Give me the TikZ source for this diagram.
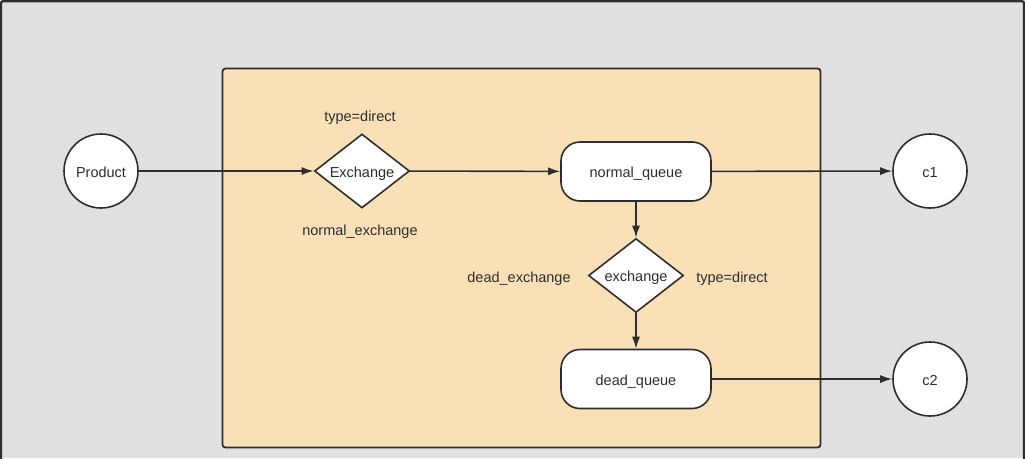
\documentclass[tikz,border=0pt]{standalone}
\usepackage{fontspec}
\setmainfont{Liberation Sans}
\usetikzlibrary{shapes.geometric,arrows.meta}
\definecolor{bggray}{HTML}{E0E0E0}
\definecolor{boxorange}{HTML}{F9E0B7}
\definecolor{ink}{HTML}{2E2E2E}
\begin{document}
\begin{tikzpicture}[x=1pt,y=-1pt,
  every node/.style={font=\fontsize{14.5}{17}\selectfont, text=ink, text height=12pt, text depth=0pt},
  circ/.style={circle, draw=ink, line width=1.6pt, fill=white, minimum size=74pt, inner sep=0pt},
  dia/.style={diamond, draw=ink, line width=1.6pt, fill=white, minimum width=95pt, minimum height=74pt, inner sep=0pt, aspect=1.3},
  queue/.style={rectangle, rounded corners=19pt, draw=ink, line width=1.6pt, fill=white, minimum width=150pt, minimum height=59pt, inner sep=0pt},
  lbl/.style={inner sep=0pt},
  conn/.style={draw=ink, line width=1.6pt, -{Latex[length=12pt,width=8pt]}}
]
\useasboundingbox (0,0) rectangle (1025,458);
\begin{scope}
\clip (0,0) rectangle (1025,458);
\fill[bggray] (0,0) rectangle (1025,458);
\draw[ink, line width=2.2pt, rounded corners=2pt] (1,480) -- (1,1.2) -- (1024,1.2) -- (1024,480);
\end{scope}
\draw[ink, fill=boxorange, line width=1.8pt, rounded corners=3pt] (222.5,68.5) rectangle (820.5,447.5);

\node[circ] (product) at (101,171) {Product};
\node[dia] (exch) at (362,171) {Exchange};
\node[lbl] (t1) at (360,115) {type=direct};
\node[lbl] (ne) at (360,229) {normal\_exchange};
\node[queue] (nq) at (636,171.5) {normal\_queue};
\node[circ] (c1) at (930,171) {c1};
\node[dia] (dexch) at (636,275.5) {exchange};
\node[lbl] (de) at (519,276) {dead\_exchange};
\node[lbl] (t2) at (732,276) {type=direct};
\node[queue] (dq) at (636,379) {dead\_queue};
\node[circ] (c2) at (930,379) {c2};

\draw[conn] (product) -- (exch);
\draw[conn] (exch) -- (nq);
\draw[conn] (nq) -- (c1);
\draw[conn] (nq) -- (dexch);
\draw[conn] (dexch) -- (dq);
\draw[conn] (dq) -- (c2);
\end{tikzpicture}
\end{document}
